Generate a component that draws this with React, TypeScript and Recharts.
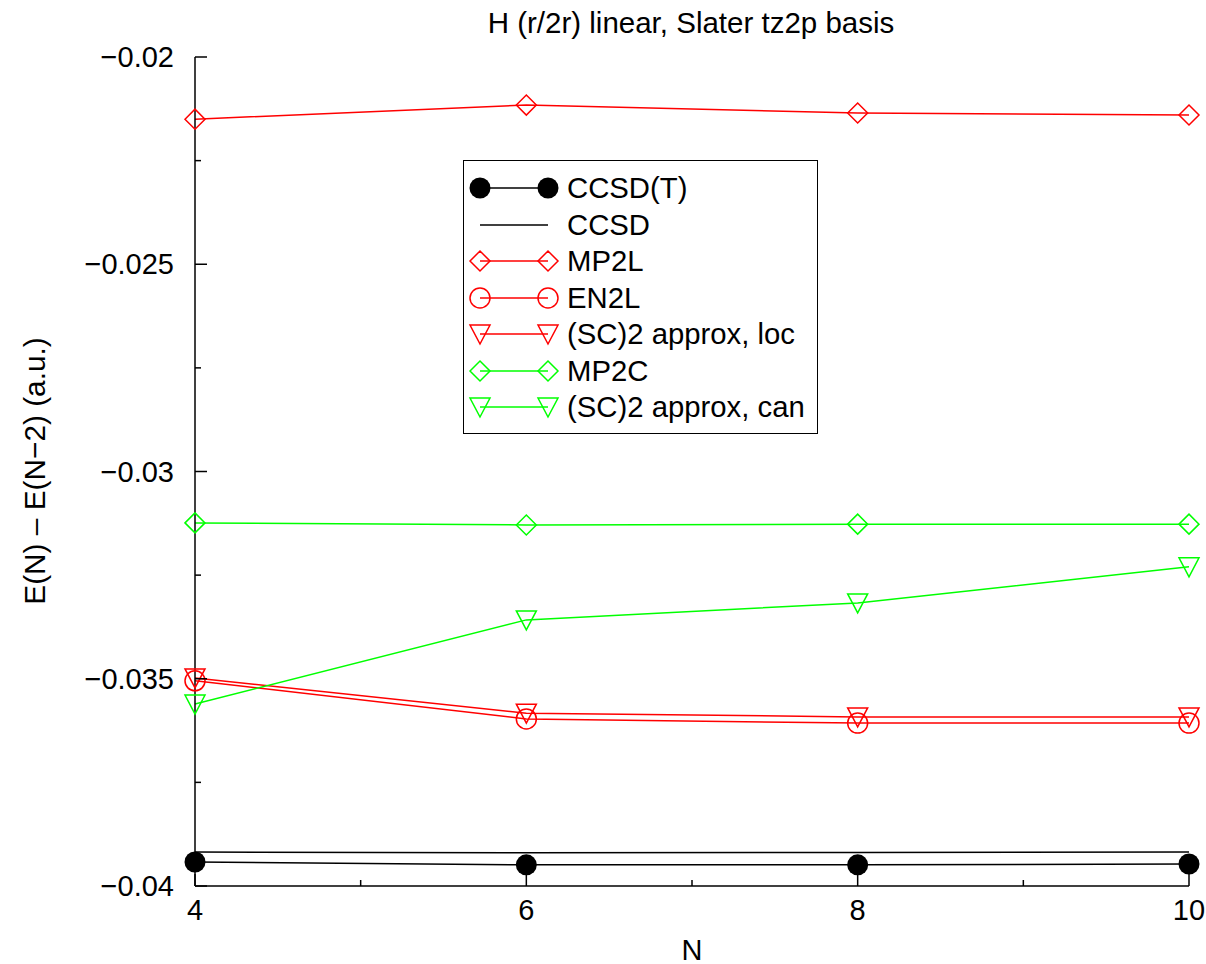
import React from 'react';
import { LineChart, Line, XAxis, YAxis, Legend } from 'recharts';

const nValues = [4, 6, 8, 10];
const ccsdT = [-0.03942, -0.03949, -0.03949, -0.03947];
const ccsd = [-0.03918, -0.0392, -0.03919, -0.03918];
const mp2L = [-0.0215, -0.02116, -0.02135, -0.0214];
const en2L = [-0.03505, -0.03597, -0.03607, -0.03607];
const sc2Loc = [-0.03498, -0.03583, -0.03592, -0.03592];
const mp2C = [-0.03124, -0.03129, -0.03127, -0.03127];
const sc2Can = [-0.03561, -0.03358, -0.03317, -0.0323];

const xTicks = [4, 5, 6, 7, 8, 9, 10];
const yTicks = [-0.04, -0.0375, -0.035, -0.0325, -0.03, -0.0275, -0.025, -0.0225, -0.02];

const title = 'H (r/2r) linear, Slater tz2p basis';
const xTitle = 'N';
const yTitle = 'E(N) \u2013 E(N\u22122) (a.u.)';

const data = nValues.map((n, i) => ({
  n,
  ccsdT: ccsdT[i],
  ccsd: ccsd[i],
  mp2L: mp2L[i],
  en2L: en2L[i],
  sc2Loc: sc2Loc[i],
  mp2C: mp2C[i],
  sc2Can: sc2Can[i],
}));

const FONT = '"Liberation Sans", Arial, Helvetica, sans-serif';
const RED = '#ff0000';
const GREEN = '#00ff00';

type MarkerKind = 'filled' | 'none' | 'diamond' | 'circle' | 'triangle';

const drawMarker = (kind: MarkerKind, cx: number, cy: number, color: string) => {
  switch (kind) {
    case 'filled':
      return <circle cx={cx} cy={cy} r={10.5} fill={color} stroke="none" />;
    case 'diamond':
      return (
        <path
          d={`M${cx - 10},${cy}L${cx},${cy - 10}L${cx + 10},${cy}L${cx},${cy + 10}Z`}
          fill="none"
          stroke={color}
          strokeWidth={1.5}
        />
      );
    case 'circle':
      return <circle cx={cx} cy={cy} r={10} fill="none" stroke={color} strokeWidth={1.5} />;
    case 'triangle':
      return (
        <path
          d={`M${cx - 10},${cy - 9}L${cx + 10},${cy - 9}L${cx},${cy + 10}Z`}
          fill="none"
          stroke={color}
          strokeWidth={1.5}
        />
      );
    default:
      return null;
  }
};

const series: { key: string; name: string; color: string; marker: MarkerKind }[] = [
  { key: 'ccsdT', name: 'CCSD(T)', color: '#000', marker: 'filled' },
  { key: 'ccsd', name: 'CCSD', color: '#000', marker: 'none' },
  { key: 'mp2L', name: 'MP2L', color: RED, marker: 'diamond' },
  { key: 'en2L', name: 'EN2L', color: RED, marker: 'circle' },
  { key: 'sc2Loc', name: '(SC)2 approx, loc', color: RED, marker: 'triangle' },
  { key: 'mp2C', name: 'MP2C', color: GREEN, marker: 'diamond' },
  { key: 'sc2Can', name: '(SC)2 approx, can', color: GREEN, marker: 'triangle' },
];

const isMajorY = (v: number) => Math.abs(v * 200 - Math.round(v * 200)) < 1e-6;

const BottomTick = (props: any) => {
  const { x, y, payload } = props;
  const major = payload.value % 2 === 0;
  return (
    <g>
      <line x1={x} y1={y} x2={x} y2={y - (major ? 12 : 6)} stroke="#000" strokeWidth={1.5} />
      {major && (
        <text x={x} y={y + 34} textAnchor="middle" fontSize={29} fontFamily={FONT} fill="#000">
          {payload.value}
        </text>
      )}
    </g>
  );
};

const TopTick = (props: any) => {
  const { x, y, payload } = props;
  const major = payload.value % 2 === 0;
  return <line x1={x} y1={y} x2={x} y2={y + (major ? 12 : 6)} stroke="#000" strokeWidth={1.5} />;
};

const LeftTick = (props: any) => {
  const { x, y, payload } = props;
  const major = isMajorY(payload.value);
  return (
    <g>
      <line x1={x} y1={y} x2={x + (major ? 12 : 6)} y2={y} stroke="#000" strokeWidth={1.5} />
      {major && (
        <text x={x - 21} y={y + 10} textAnchor="end" fontSize={29} fontFamily={FONT} fill="#000">
          {'\u2212' + Math.abs(payload.value)}
        </text>
      )}
    </g>
  );
};

const RightTick = (props: any) => {
  const { x, y, payload } = props;
  const major = isMajorY(payload.value);
  return <line x1={x} y1={y} x2={x - (major ? 12 : 6)} y2={y} stroke="#000" strokeWidth={1.5} />;
};

const LegendBox = () => (
  <div
    style={{
      position: 'relative',
      width: 355,
      height: 274,
      boxSizing: 'border-box',
      border: '1.5px solid #000',
      background: '#fff',
      fontFamily: FONT,
      fontSize: 29.3,
    }}
  >
    {series.map((s, i) => {
      const cy = 27 + i * 36.5;
      return (
        <div key={s.key} style={{ position: 'absolute', left: 0, top: cy - 18, height: 36, width: '100%' }}>
          <svg width={100} height={36} style={{ position: 'absolute', left: 0, top: 0 }}>
            <line x1={16} y1={18} x2={84} y2={18} stroke={s.color} strokeWidth={1.5} />
            {drawMarker(s.marker, 16, 18, s.color)}
            {drawMarker(s.marker, 84, 18, s.color)}
          </svg>
          <span style={{ position: 'absolute', left: 103, top: 0, lineHeight: '36px', whiteSpace: 'nowrap' }}>
            {s.name}
          </span>
        </div>
      );
    })}
  </div>
);

export default function App() {
  return (
    <div style={{ position: 'absolute', left: 0, top: 0, width: 1206, height: 964, background: '#fff' }}>
      <LineChart width={1206} height={964} data={data} margin={{ top: 57, right: 17, bottom: 0, left: 0 }}>
        <XAxis
          dataKey="n"
          type="number"
          domain={[4, 10]}
          ticks={xTicks}
          interval={0}
          height={78}
          tickSize={0}
          tickMargin={0}
          tickLine={false}
          axisLine={{ stroke: '#000', strokeWidth: 1.5 }}
          tick={<BottomTick />}
        />
        <XAxis
          xAxisId="top"
          orientation="top"
          dataKey="n"
          type="number"
          domain={[4, 10]}
          ticks={xTicks}
          interval={0}
          height={0}
          tickSize={0}
          tickMargin={0}
          tickLine={false}
          axisLine={{ stroke: '#000', strokeWidth: 1.5 }}
          tick={<TopTick />}
          allowDataOverflow
        />
        <YAxis
          type="number"
          domain={[-0.04, -0.02]}
          ticks={yTicks}
          interval={0}
          width={195}
          tickSize={0}
          tickMargin={0}
          tickLine={false}
          axisLine={{ stroke: '#000', strokeWidth: 1.5 }}
          tick={<LeftTick />}
        />
        <YAxis
          yAxisId="right"
          orientation="right"
          type="number"
          domain={[-0.04, -0.02]}
          ticks={yTicks}
          interval={0}
          width={0}
          tickSize={0}
          tickMargin={0}
          tickLine={false}
          axisLine={{ stroke: '#000', strokeWidth: 1.5 }}
          tick={<RightTick />}
          allowDataOverflow
        />
        <Legend
          layout="horizontal"
          verticalAlign="middle"
          align="center"
          content={() => <LegendBox />}
          wrapperStyle={{ position: 'absolute', left: 463, top: 160, width: 355, height: 274 }}
        />
        {series.map((s) => (
          <Line
            key={s.key}
            dataKey={s.key}
            name={s.name}
            type="linear"
            stroke={s.color}
            strokeWidth={1.5}
            isAnimationActive={false}
            dot={
              s.marker === 'none'
                ? false
                : (p: any) => <g key={`${s.key}-${p.index}`}>{drawMarker(s.marker, p.cx, p.cy, s.color)}</g>
            }
            activeDot={false}
          />
        ))}
      </LineChart>
      <div
        style={{
          position: 'absolute',
          left: 691,
          top: 9,
          transform: 'translateX(-50%)',
          fontFamily: FONT,
          fontSize: 29.5,
          lineHeight: '28px',
          whiteSpace: 'nowrap',
        }}
      >
        {title}
      </div>
      <div
        style={{
          position: 'absolute',
          left: 692,
          top: 938,
          transform: 'translateX(-50%)',
          fontFamily: FONT,
          fontSize: 29,
          lineHeight: '24px',
        }}
      >
        {xTitle}
      </div>
      <div
        style={{
          position: 'absolute',
          left: 35,
          top: 471,
          transform: 'translate(-50%, -50%) rotate(-90deg)',
          fontFamily: FONT,
          fontSize: 29.8,
          lineHeight: '28px',
          whiteSpace: 'nowrap',
        }}
      >
        {yTitle}
      </div>
    </div>
  );
}
